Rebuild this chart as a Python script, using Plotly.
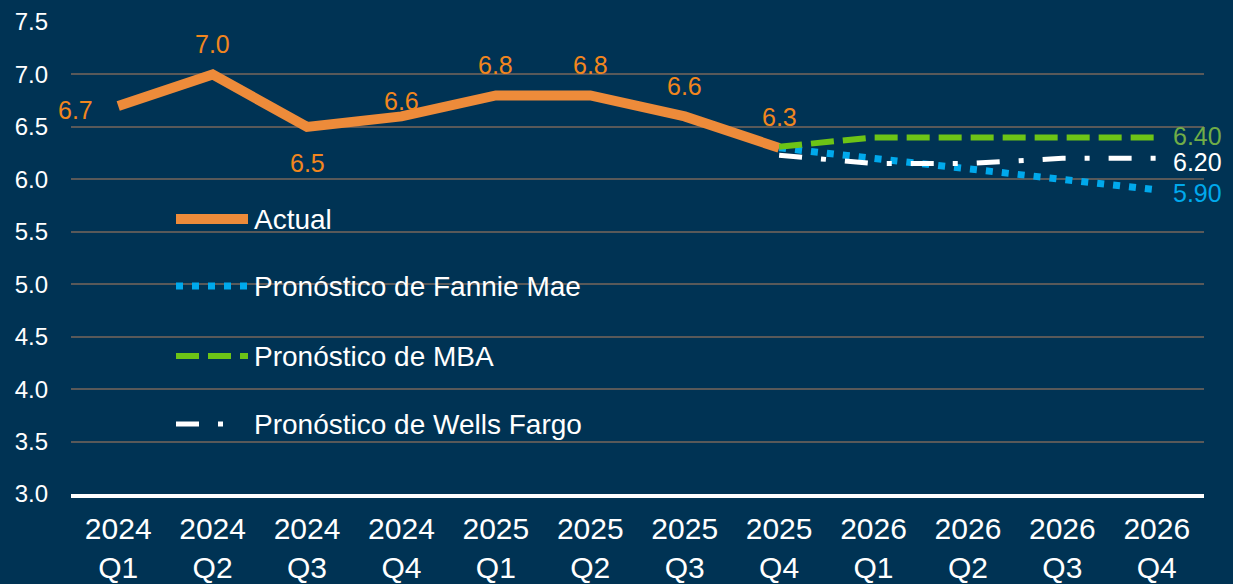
import plotly.graph_objects as go

quarters = ["2024<br>Q1", "2024<br>Q2", "2024<br>Q3", "2024<br>Q4",
            "2025<br>Q1", "2025<br>Q2", "2025<br>Q3", "2025<br>Q4",
            "2026<br>Q1", "2026<br>Q2", "2026<br>Q3", "2026<br>Q4"]

actual = [6.7, 7.0, 6.5, 6.6, 6.8, 6.8, 6.6, 6.3]
forecast_quarters = quarters[7:]
fannie_mae = [6.3, 6.2, 6.1, 6.0, 5.9]
mba = [6.31, 6.4, 6.4, 6.4, 6.4]
wells_fargo = [6.23, 6.15, 6.15, 6.2, 6.2]

BG = "#003354"
ORANGE = "#ED8B3A"
ORANGE_TXT = "#F2861E"
BLUE = "#00A9EC"
GREEN = "#6DC416"
GREEN_TXT = "#70AD47"
WHITE = "#FFFFFF"
FONT = "Arial, Liberation Sans, sans-serif"

W, H = 1233, 584
L, R, T, B = 71, 29, 22, 90


def px_x(x):
    return (x - L) / (W - L - R)


def px_y(y):
    return 1 - (y - T) / (H - T - B)


fig = go.Figure()
fig.add_trace(go.Scatter(x=quarters[:8], y=actual, mode="lines", name="Actual",
                         line=dict(color=ORANGE, width=10)))
fig.add_trace(go.Scatter(x=forecast_quarters, y=fannie_mae, mode="lines", name="Pronóstico de Fannie Mae",
                         line=dict(color=BLUE, width=7, dash="7px,9px")))
fig.add_trace(go.Scatter(x=forecast_quarters, y=mba, mode="lines", name="Pronóstico de MBA",
                         line=dict(color=GREEN, width=6, dash="23px,9px")))
fig.add_trace(go.Scatter(x=forecast_quarters, y=wells_fargo, mode="lines", name="Pronóstico de Wells Fargo",
                         line=dict(color=WHITE, width=5, dash="23px,19px,5px,19px")))

# data labels on the actual series (xshift, yshift in px)
label_shift = [(-43, -4), (0, 30), (0, -36), (0, 15), (0, 30), (0, 30), (0, 30), (0, 31)]
for q, v, (dx, dy) in zip(quarters, actual, label_shift):
    fig.add_annotation(x=q, y=v, text=f"{v:.1f}", showarrow=False, xshift=dx, yshift=dy,
                       font=dict(size=25, color=ORANGE_TXT, family=FONT))

# end labels for forecasts
for series, color, dy in [(mba, GREEN_TXT, 1), (wells_fargo, WHITE, -4), (fannie_mae, BLUE, -3)]:
    fig.add_annotation(x=forecast_quarters[-1], y=series[-1], text=f"{series[-1]:.2f}", showarrow=False,
                       xanchor="left", xshift=14, yshift=dy,
                       font=dict(size=25, color=color, family=FONT))

# hand-drawn legend (wide line samples)
legend_items = [
    ("Actual", dict(color=ORANGE, width=10), 219, 248),
    ("Pronóstico de Fannie Mae", dict(color=BLUE, width=7, dash="7px,9px"), 286, 250),
    ("Pronóstico de MBA", dict(color=GREEN, width=6, dash="23px,9px"), 356, 248),
    ("Pronóstico de Wells Fargo", dict(color=WHITE, width=5, dash="23px,19px,5px,19px"), 424, 224),
]
for label, line, y, x_end in legend_items:
    fig.add_shape(type="line", xref="paper", yref="paper",
                  x0=px_x(176), x1=px_x(x_end), y0=px_y(y), y1=px_y(y), line=line)
    fig.add_annotation(xref="paper", yref="paper", x=px_x(252), y=px_y(y), text=label,
                       showarrow=False, xanchor="left", yanchor="middle",
                       font=dict(size=28, color=WHITE, family=FONT))

fig.update_layout(
    width=W, height=H,
    margin=dict(l=L, r=R, t=T, b=B, autoexpand=False),
    paper_bgcolor=BG, plot_bgcolor=BG,
    showlegend=False,
    font=dict(family=FONT, color=WHITE),
)
fig.update_xaxes(
    range=[-0.5, 11.5], automargin=False,
    showgrid=False, showline=True, linecolor=WHITE, linewidth=4,
    tickfont=dict(size=30, color=WHITE), ticklabelstandoff=5,
)
fig.update_yaxes(
    range=[3, 7.5], dtick=0.5, tickformat=".1f", automargin=False,
    showgrid=True, gridcolor="#595959", gridwidth=2, zeroline=False,
    tickfont=dict(size=24, color=WHITE), ticklabelstandoff=22,
)

fig.write_html("out.html", config={"displayModeBar": False},
               post_script="document.body.style.margin='0px';")
